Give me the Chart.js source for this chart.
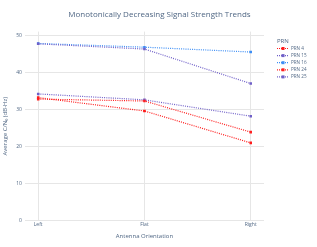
<!DOCTYPE html>
<html>
<head>
<meta charset="utf-8">
<script src="https://cdn.jsdelivr.net/npm/chart.js@4.4.1/dist/chart.umd.min.js"></script>
<style>
  html, body { margin: 0; padding: 0; background: #fff; }
  #wrap { width: 317px; height: 247px; position: relative; }
</style>
</head>
<body>
<div id="wrap"><canvas id="signalChart"></canvas></div>
<script>
// categories and series
const orientations = ['Left', 'Flat', 'Right'];
const prnNames = ['PRN 4', 'PRN 15', 'PRN 16', 'PRN 24', 'PRN 25'];
const prn4 = [33.2, 29.6, 21.0];
const prn15 = [47.7, 46.3, 37.0];
const prn16 = [47.8, 46.8, 45.5];
const prn24 = [32.8, 32.3, 23.9];
const prn25 = [34.2, 32.6, 28.2];
const yTicks = [0, 10, 20, 30, 40, 50];

const colors = ['#ff1a1a', '#6f5fc8', '#3d8ef5', '#ff2020', '#6f5fc8'];
const series = [prn4, prn15, prn16, prn24, prn25];

const fontFam = '"Open Sans", "DejaVu Sans", sans-serif';
const textCol = '#506784';

let datasets = series.map((vals, i) => ({
    label: prnNames[i],
    data: vals.map((v, k) => ({ x: k, y: v })),
    borderColor: colors[i],
    backgroundColor: colors[i],
    borderWidth: 1.2,
    borderDash: [1, 1.2],
    pointStyle: 'rect',
    pointRadius: 1.8,
    pointBorderWidth: 0,
    tension: 0
}));

// small legend on the right, like the reference
const sideLegend = {
    id: 'sideLegend',
    afterDraw(chart) {
        let g = chart.ctx;
        let x0 = chart.chartArea.right + 13;
        let y0 = 41;
        g.save();
        g.textBaseline = 'middle';
        g.fillStyle = textCol;
        g.font = '6px ' + fontFam;
        g.fillText('PRN', x0, y0);
        chart.data.datasets.forEach((ds, i) => {
            let y = y0 + 7.5 + i * 7.1;
            g.strokeStyle = ds.borderColor;
            g.lineWidth = 1.2;
            g.setLineDash([1, 1]);
            g.beginPath(); g.moveTo(x0, y); g.lineTo(x0 + 12, y); g.stroke();
            g.setLineDash([]);
            g.fillStyle = ds.borderColor;
            g.fillRect(x0 + 4.5, y - 1.5, 3, 3);
            g.fillStyle = textCol;
            g.font = '4.6px ' + fontFam;
            g.fillText(ds.label, x0 + 14, y);
        });
        g.restore();
    }
};

let ctx = document.getElementById('signalChart').getContext('2d');
new Chart(ctx, {
    type: 'line',
    data: { datasets: datasets },
    plugins: [sideLegend],
    options: {
        responsive: true,
        maintainAspectRatio: false,
        animation: false,
        layout: { padding: { left: 2, right: 0, top: 6, bottom: 7 } },
        plugins: {
            title: {
                display: true,
                text: 'Monotonically Decreasing Signal Strength Trends',
                color: textCol,
                font: { family: fontFam, size: 8, weight: 'normal' },
                padding: { top: 4, bottom: 12 }
            },
            legend: { display: false },
            tooltip: { enabled: false }
        },
        scales: {
            x: {
                type: 'linear',
                min: -0.125,
                max: 2.125,
                afterBuildTicks: scale => { scale.ticks = orientations.map((o, k) => ({ value: k })); },
                ticks: {
                    callback: v => orientations[v],
                    color: textCol,
                    font: { family: fontFam, size: 5 },
                    padding: 1
                },
                grid: { color: '#e6e6e6', drawTicks: false },
                border: { display: false },
                title: {
                    display: true,
                    text: 'Antenna Orientation',
                    color: textCol,
                    font: { family: fontFam, size: 6 },
                    padding: { top: 4, bottom: 0 }
                }
            },
            y: {
                min: 0,
                max: 51,
                afterBuildTicks: scale => { scale.ticks = yTicks.map(v => ({ value: v })); },
                ticks: {
                    color: textCol,
                    font: { family: fontFam, size: 5 },
                    padding: 3
                },
                grid: { color: '#e6e6e6', drawTicks: false },
                border: { display: false },
                title: {
                    display: true,
                    text: 'Average C/N\u2080 (dB-Hz)',
                    color: textCol,
                    font: { family: fontFam, size: 6 },
                    padding: { top: 0, bottom: 4 }
                }
            },
            // empty axis that only reserves room for the legend
            side: {
                position: 'right',
                display: true,
                grid: { display: false },
                ticks: { display: false },
                border: { display: false },
                afterFit: scale => { scale.width = 53; }
            }
        }
    }
});
</script>
</body>
</html>
